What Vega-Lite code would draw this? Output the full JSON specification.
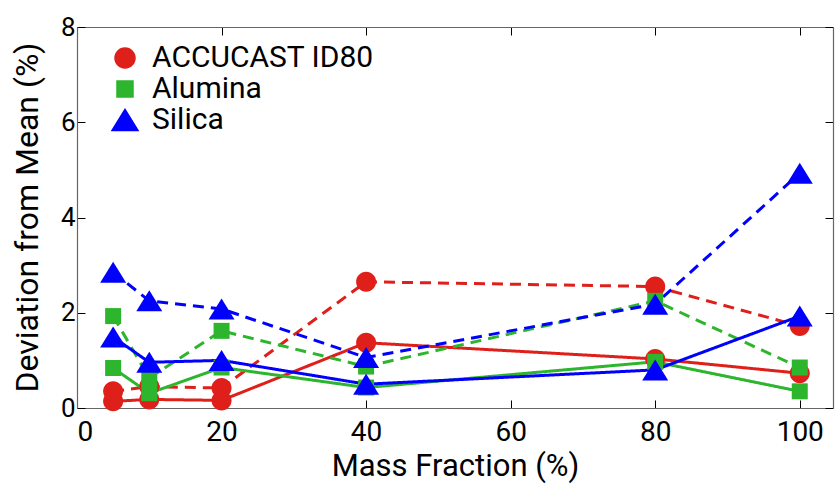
{
  "$schema": "https://vega.github.io/schema/vega-lite/v6.json",
  "width": 756,
  "height": 381,
  "autosize": {"type": "none"},
  "padding": {"left": 77, "top": 27, "right": 3, "bottom": 77},
  "config": {
    "view": {"stroke": null},
    "font": "Roboto",
    "legend": {"orient": "none", "legendX": 33, "legendY": 16, "labelLimit": 0},
    "axis": {
      "grid": false, "domainColor": "#666666", "domainWidth": 1.2,
      "tickColor": "#000000", "tickWidth": 1, "tickSize": -8,
      "labelColor": "#000000", "titleColor": "#000000",
      "labelFont": "Roboto", "titleFont": "Roboto", "titleFontWeight": "normal"
    }
  },
  "data": {
    "values": [
      {"x": 5, "y": 0.14, "material": "ACCUCAST ID80", "kind": "solid"},
      {"x": 10, "y": 0.18, "material": "ACCUCAST ID80", "kind": "solid"},
      {"x": 20, "y": 0.16, "material": "ACCUCAST ID80", "kind": "solid"},
      {"x": 40, "y": 1.37, "material": "ACCUCAST ID80", "kind": "solid"},
      {"x": 80, "y": 1.03, "material": "ACCUCAST ID80", "kind": "solid"},
      {"x": 100, "y": 0.73, "material": "ACCUCAST ID80", "kind": "solid"},
      {"x": 5, "y": 0.35, "material": "ACCUCAST ID80", "kind": "dashed"},
      {"x": 10, "y": 0.45, "material": "ACCUCAST ID80", "kind": "dashed"},
      {"x": 20, "y": 0.42, "material": "ACCUCAST ID80", "kind": "dashed"},
      {"x": 40, "y": 2.65, "material": "ACCUCAST ID80", "kind": "dashed"},
      {"x": 80, "y": 2.55, "material": "ACCUCAST ID80", "kind": "dashed"},
      {"x": 100, "y": 1.72, "material": "ACCUCAST ID80", "kind": "dashed"},
      {"x": 5, "y": 0.84, "material": "Alumina", "kind": "solid"},
      {"x": 10, "y": 0.31, "material": "Alumina", "kind": "solid"},
      {"x": 20, "y": 0.85, "material": "Alumina", "kind": "solid"},
      {"x": 40, "y": 0.43, "material": "Alumina", "kind": "solid"},
      {"x": 80, "y": 0.97, "material": "Alumina", "kind": "solid"},
      {"x": 100, "y": 0.35, "material": "Alumina", "kind": "solid"},
      {"x": 5, "y": 1.93, "material": "Alumina", "kind": "dashed"},
      {"x": 10, "y": 0.63, "material": "Alumina", "kind": "dashed"},
      {"x": 20, "y": 1.62, "material": "Alumina", "kind": "dashed"},
      {"x": 40, "y": 0.87, "material": "Alumina", "kind": "dashed"},
      {"x": 80, "y": 2.25, "material": "Alumina", "kind": "dashed"},
      {"x": 100, "y": 0.85, "material": "Alumina", "kind": "dashed"},
      {"x": 5, "y": 1.49, "material": "Silica", "kind": "solid"},
      {"x": 10, "y": 0.96, "material": "Silica", "kind": "solid"},
      {"x": 20, "y": 1.0, "material": "Silica", "kind": "solid"},
      {"x": 40, "y": 0.5, "material": "Silica", "kind": "solid"},
      {"x": 80, "y": 0.8, "material": "Silica", "kind": "solid"},
      {"x": 100, "y": 1.93, "material": "Silica", "kind": "solid"},
      {"x": 5, "y": 2.85, "material": "Silica", "kind": "dashed"},
      {"x": 10, "y": 2.25, "material": "Silica", "kind": "dashed"},
      {"x": 20, "y": 2.08, "material": "Silica", "kind": "dashed"},
      {"x": 40, "y": 1.06, "material": "Silica", "kind": "dashed"},
      {"x": 80, "y": 2.18, "material": "Silica", "kind": "dashed"},
      {"x": 100, "y": 4.93, "material": "Silica", "kind": "dashed"}
    ]
  },
  "layer": [
    {
      "mark": {"type": "line", "strokeWidth": 3},
      "encoding": {
        "x": {"field": "x", "type": "quantitative",
          "scale": {"domain": [0, 104.6], "nice": false, "zero": false},
          "axis": {"orient": "bottom", "values": [0, 20, 40, 60, 80, 100], "title": "Mass Fraction (%)", "labelFontSize": 28, "labelPadding": 18, "titleFontSize": 31, "titleBaseline": "alphabetic", "titleY": 67}},
        "y": {"field": "y", "type": "quantitative",
          "scale": {"domain": [0, 8], "nice": false},
          "axis": {"orient": "left", "values": [0, 2, 4, 6, 8], "title": "Deviation from Mean (%)", "labelFontSize": 26, "labelPadding": 10, "titleFontSize": 32, "titleBaseline": "alphabetic", "titleX": -40, "titleY": 190}},
        "color": {"field": "material", "type": "nominal",
          "scale": {"domain": ["ACCUCAST ID80", "Alumina", "Silica"], "range": ["#DE1F1A", "#2DB52D", "#0000FF"]},
          "legend": {"orient": "none", "legendX": 33, "legendY": 16, "title": null, "labelFont": "Roboto", "labelFontSize": 30, "labelColor": "#000000", "labelOffset": 12, "labelLimit": 0, "symbolSize": 400, "rowPadding": 1, "padding": 0}},
        "strokeDash": {"field": "kind", "type": "nominal",
          "scale": {"domain": ["solid", "dashed"], "range": [[1, 0], [11, 7]]}, "legend": null}
      }
    },
    {
      "mark": {"type": "point", "filled": true, "opacity": 1, "size": 400},
      "encoding": {
        "x": {"field": "x", "type": "quantitative",
          "axis": {"orient": "top", "values": [0, 20, 40, 60, 80, 100], "labels": false, "title": null}},
        "y": {"field": "y", "type": "quantitative",
          "axis": {"orient": "right", "values": [0, 2, 4, 6, 8], "labels": false, "title": null}},
        "color": {"field": "material", "type": "nominal",
          "scale": {"domain": ["ACCUCAST ID80", "Alumina", "Silica"], "range": ["#DE1F1A", "#2DB52D", "#0000FF"]},
          "legend": {"orient": "none", "legendX": 33, "legendY": 16, "title": null, "labelFont": "Roboto", "labelFontSize": 30, "labelColor": "#000000", "labelOffset": 12, "labelLimit": 0, "symbolSize": 400, "rowPadding": 1, "padding": 0}},
        "shape": {"field": "material", "type": "nominal",
          "scale": {"domain": ["ACCUCAST ID80", "Alumina", "Silica"], "range": ["M1,0A1,1 0 1 1 -1,0A1,1 0 1 1 1,0Z", "M-0.8,-0.8H0.8V0.8H-0.8Z", "M0,-1.05L1.3,1.05H-1.3Z"]},
          "legend": {"orient": "none", "legendX": 33, "legendY": 16, "title": null, "labelFont": "Roboto", "labelFontSize": 30, "labelColor": "#000000", "labelOffset": 12, "labelLimit": 0, "symbolSize": 400, "rowPadding": 1, "padding": 0}}
      }
    }
  ],
  "resolve": {"axis": {"x": "independent", "y": "independent"}}
}
